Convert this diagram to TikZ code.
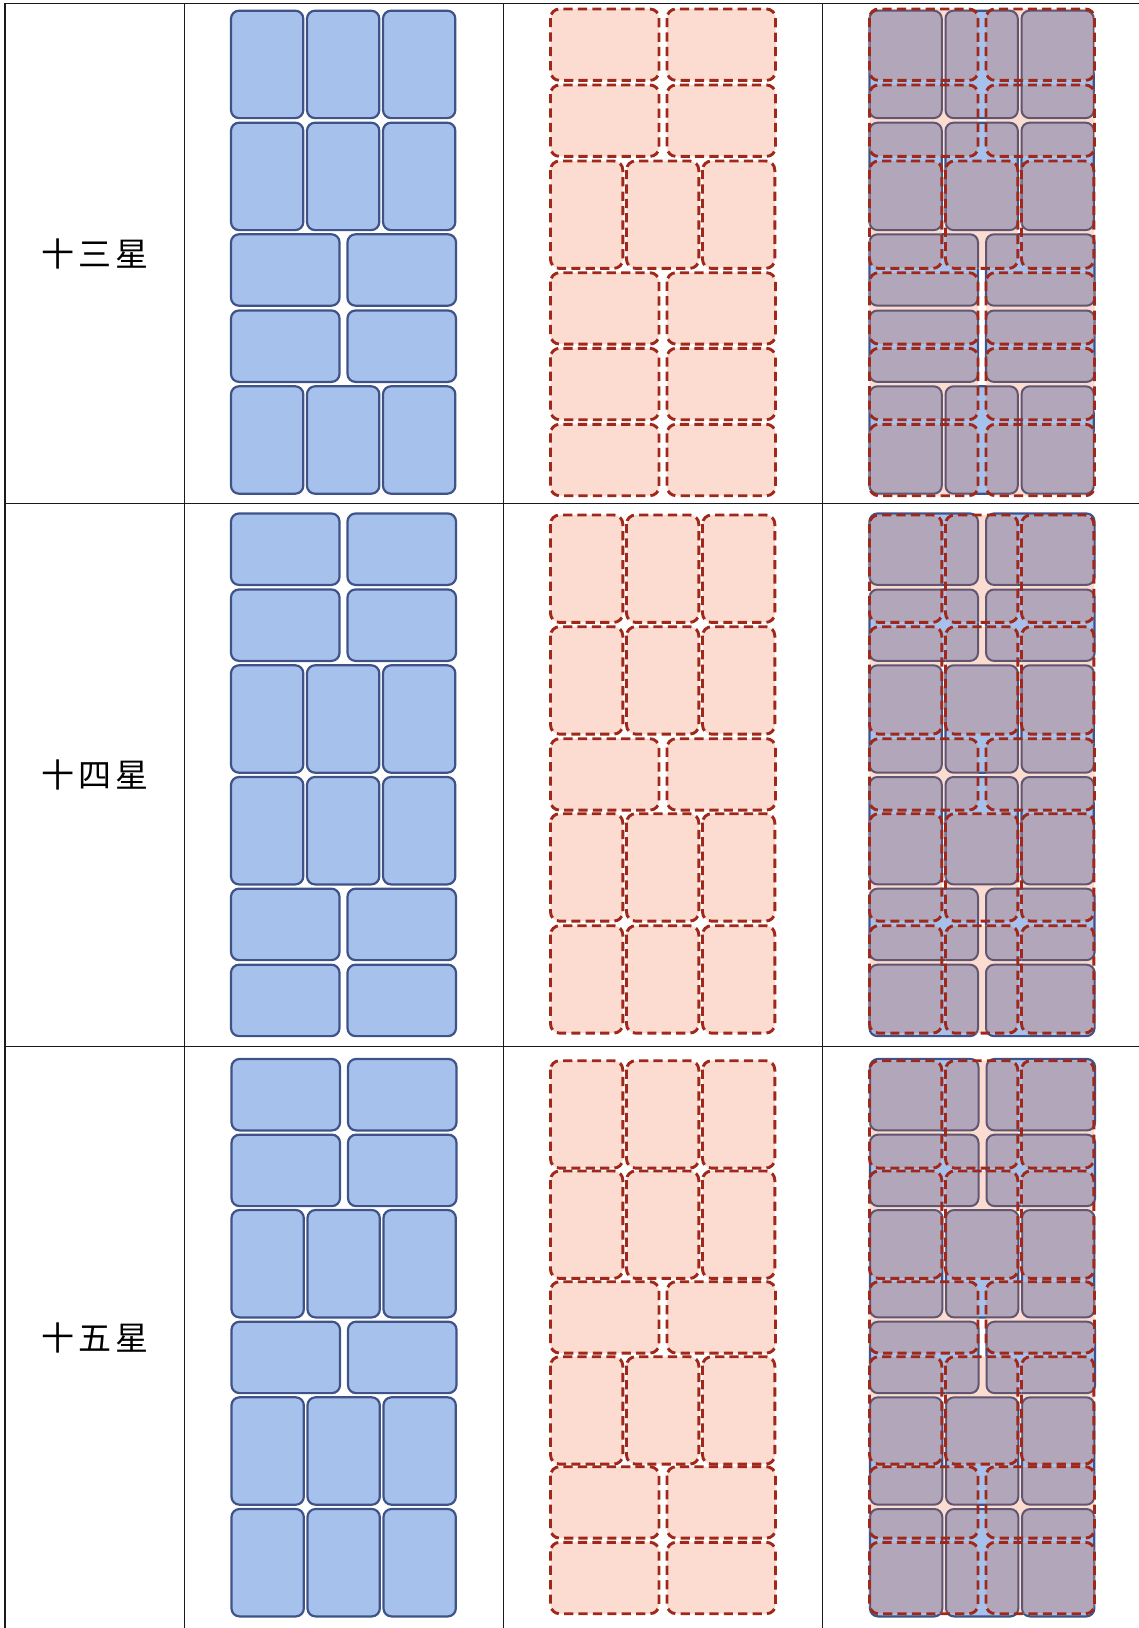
\documentclass[tikz,border=0pt]{standalone}
\usepackage{fontspec}
\newfontfamily\cjk{Noto Sans CJK TC}
\definecolor{tileblue}{HTML}{A6C2EC}
\definecolor{tileblueline}{HTML}{3F5389}
\definecolor{tilepink}{HTML}{FCDCD0}
\definecolor{tilered}{HTML}{A0281A}
\definecolor{mixfill}{HTML}{B2A6BA}
\definecolor{mixline}{HTML}{5F5672}
\definecolor{gridline}{HTML}{1A1A1A}
% iterate over the tiles of a pattern: #1 = x0, #2 = list macro (type/ytop), #3 = code using \px \py \pw \ph
\newcommand\forpat[3]{%
  \foreach \ty/\yt in #2 {%
    \ifnum\ty=3
      \foreach \k in {0,1,2} {\pgfmathsetmacro\px{#1+\k*76}\def\pw{72.3}\def\ph{107.4}\let\py\yt #3}%
    \else
      \foreach \k in {0,1} {\pgfmathsetmacro\px{#1+\k*116.5}\def\pw{108.5}\def\ph{71.4}\let\py\yt #3}%
    \fi}}
% same, with other variable names (for nesting)
\newcommand\forpatq[3]{%
  \foreach \tyq/\ytq in #2 {%
    \ifnum\tyq=3
      \foreach \kq in {0,1,2} {\pgfmathsetmacro\qx{#1+\kq*76}\def\qw{72.3}\def\qh{107.4}\let\qy\ytq #3}%
    \else
      \foreach \kq in {0,1} {\pgfmathsetmacro\qx{#1+\kq*116.5}\def\qw{108.5}\def\qh{71.4}\let\qy\ytq #3}%
    \fi}}
\newcommand\drawpat[3]{\forpat{#1}{#2}{\path[#3] (\px,\py) rectangle ++(\pw,\ph);}}
% overlap of a blue pattern (#1 x0, #2 list) with a pink pattern (#3 x0, #4 list)
\newcommand\mixpat[4]{\forpat{#3}{#4}{\begin{scope}\clip[rounded corners=4.5pt] (\px,\py) rectangle ++(\pw,\ph);
  \forpatq{#1}{#2}{\path[mixtile] (\qx,\qy) rectangle ++(\qw,\qh);}\end{scope}}}
\newcommand\patBa{3/10.7,3/122.7,2/234.3,2/310.5,3/386.3}
\newcommand\patPa{2/9,2/85,3/161,2/272.7,2/348.3,2/424.3}
\newcommand\patBb{2/513.5,2/589.5,3/665.3,3/777,2/888.7,2/964.7}
\newcommand\patPb{3/515,3/626.7,2/738.7,3/813.7,3/925.7}
\newcommand\patBc{2/1059,2/1134.7,3/1210,2/1321.7,3/1397.3,3/1509}
\newcommand\patPc{3/1060.7,3/1171,2/1281.7,3/1356.7,2/1466.7,2/1542.3}
\begin{document}
\begin{tikzpicture}[x=0.5pt,y=-0.5pt,
  bluetile/.style={fill=tileblue, draw=tileblueline, line width=1.1pt, rounded corners=4pt},
  mixtile/.style={fill=mixfill, draw=mixline, line width=1pt, rounded corners=4pt},
  pinkfill/.style={fill=tilepink, rounded corners=4.5pt},
  pinkline/.style={draw=tilered, line width=1.45pt, dash pattern=on 4.6pt off 2.6pt, rounded corners=4.5pt},
  pinktile/.style={pinkfill, pinkline},
  rule/.style={draw=gridline, line width=0.7pt},
  rowlabel/.style={font=\cjk\fontsize{16.5pt}{20pt}\selectfont, inner sep=0pt}]
\useasboundingbox (0,0) rectangle (1139,1628);
\fill[white] (0,0) rectangle (1139,1628);
% table rules
\path[rule] (5,3.3) -- (1139,3.3);
\path[rule] (5,503.6) -- (1139,503.6);
\path[rule] (5,1046.6) -- (1139,1046.6);
\path[rule] (5,3.3) -- (5,1628);
\path[rule] (184.7,3.3) -- (184.7,1628);
\path[rule] (503.3,3.3) -- (503.3,1628);
\path[rule] (822.7,3.3) -- (822.7,1628);
% labels
\node[rowlabel] (l13) at (95,254) {十\hspace{2.2pt}三\hspace{2.2pt}星};
\node[rowlabel] (l14) at (95,775) {十\hspace{2.2pt}四\hspace{2.2pt}星};
\node[rowlabel] (l15) at (95,1338) {十\hspace{2.2pt}五\hspace{2.2pt}星};
% column 2: blue
\drawpat{231}{\patBa}{bluetile}
\drawpat{231}{\patBb}{bluetile}
\drawpat{231.5}{\patBc}{bluetile}
% column 3: pink
\drawpat{550.5}{\patPa}{pinktile}
\drawpat{550.5}{\patPb}{pinktile}
\drawpat{550.5}{\patPc}{pinktile}
% column 4: overlay
\drawpat{869.5}{\patBa}{bluetile}
\drawpat{869.5}{\patBb}{bluetile}
\drawpat{870}{\patBc}{bluetile}
\drawpat{869.5}{\patPa}{pinkfill}
\drawpat{869.5}{\patPb}{pinkfill}
\drawpat{869.5}{\patPc}{pinkfill}
\mixpat{869.5}{\patBa}{869.5}{\patPa}
\mixpat{869.5}{\patBb}{869.5}{\patPb}
\mixpat{870}{\patBc}{869.5}{\patPc}
\drawpat{869.5}{\patPa}{pinkline}
\drawpat{869.5}{\patPb}{pinkline}
\drawpat{869.5}{\patPc}{pinkline}
\end{tikzpicture}
\end{document}
